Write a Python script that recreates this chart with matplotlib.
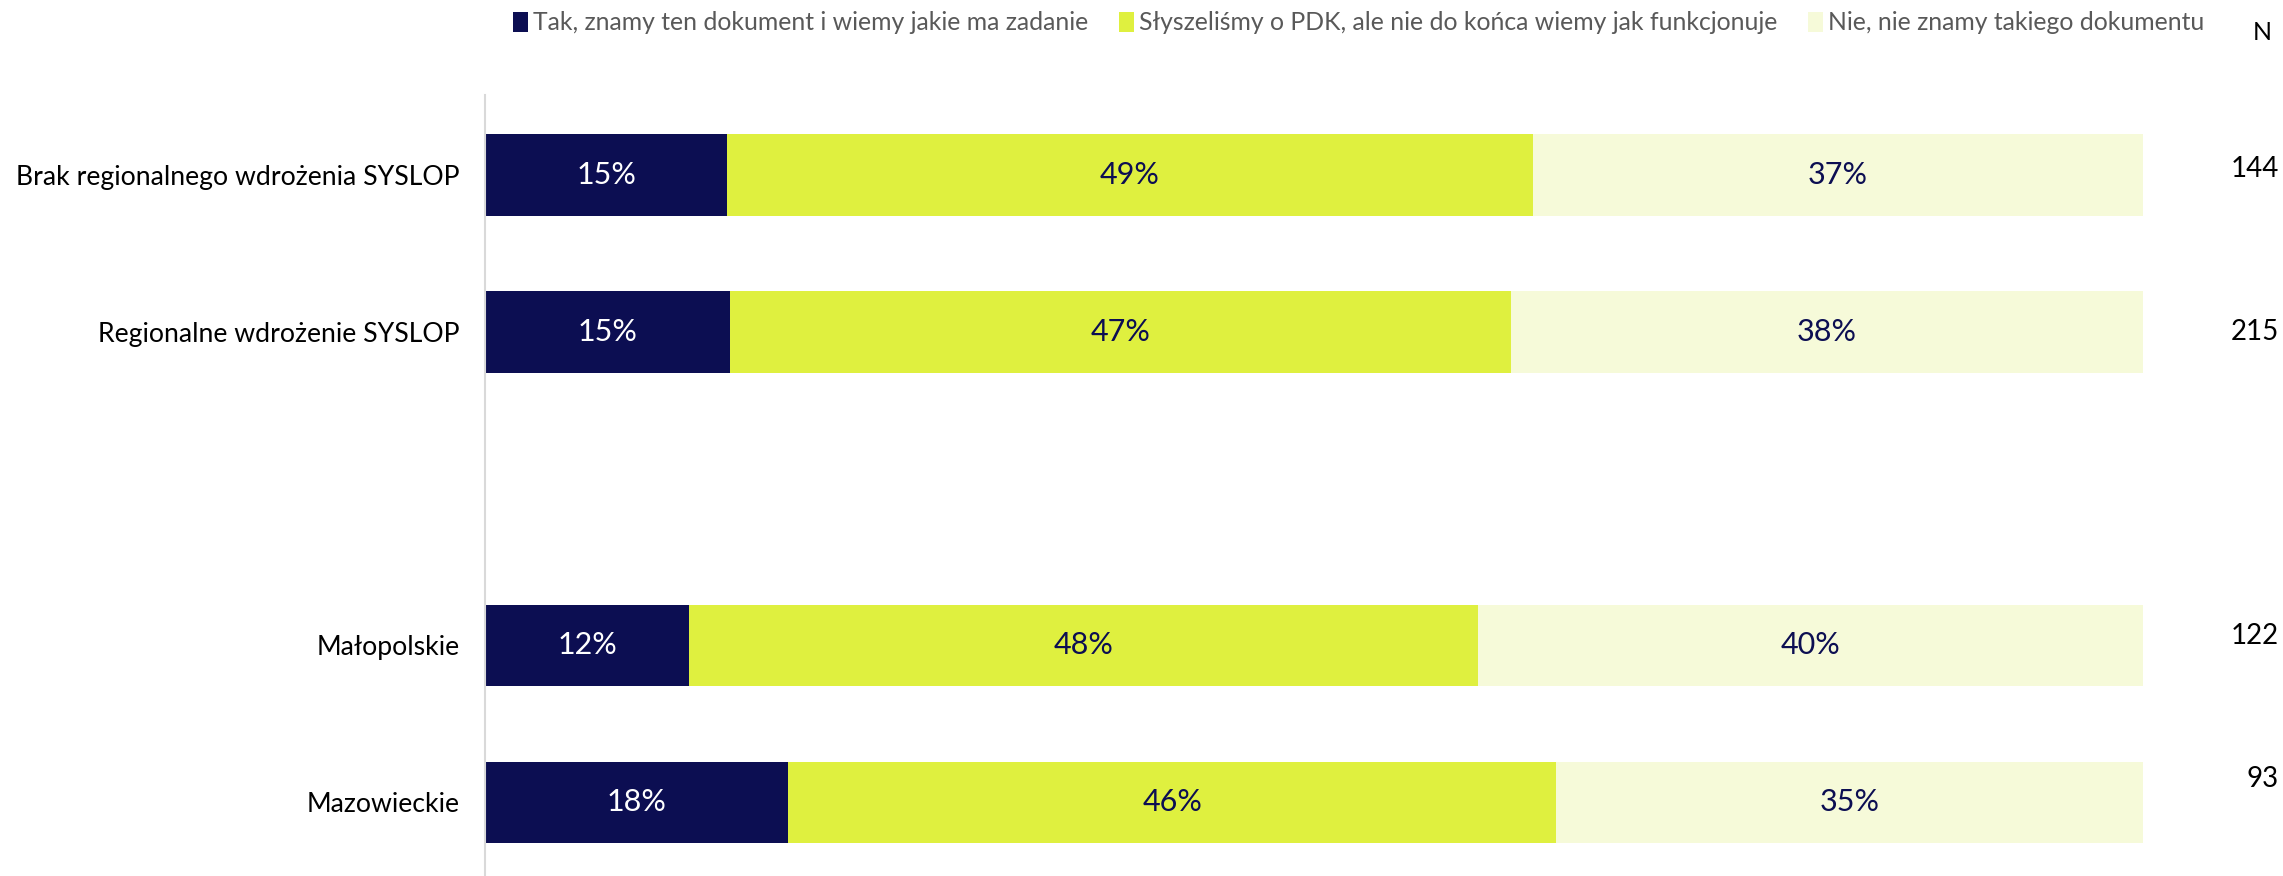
import matplotlib
matplotlib.use('Agg')
import matplotlib.pyplot as plt
from matplotlib.patches import Patch

#-----------------------------------------------------------------
# data
#-----------------------------------------------------------------
categories = ['Brak regionalnego wdrożenia SYSLOP', 'Regionalne wdrożenie SYSLOP',
              'Małopolskie', 'Mazowieckie']
positions  = [0, 1, 3, 4]          # empty slot between the two groups
tak        = [14.6, 14.8, 12.3, 18.3]
slyszelismy = [48.6, 47.1, 47.6, 46.3]
nie        = [36.8, 38.1, 40.1, 35.4]
n_values   = [144, 215, 122, 93]
n_nudge    = [-0.04, 0.0, -0.06, -0.15]

series_names = ['Tak, znamy ten dokument i wiemy jakie ma zadanie',
                'Słyszeliśmy o PDK, ale nie do końca wiemy jak funkcjonuje',
                'Nie, nie znamy takiego dokumentu']
colors      = ['#0c0e52', '#dff03f', '#f6fad9']
text_colors = ['white', '#0c0e52', '#0c0e52']

plt.rcParams['font.family'] = ['Lato', 'DejaVu Sans']

W, H = 2283, 876
fig = plt.figure(figsize=(W / 100, H / 100), dpi=100)
ax = fig.add_axes([485 / W, 0, (2143 - 485) / W, 1 - 95 / H])

left = [0, 0, 0, 0]
for vals, col, tcol in zip([tak, slyszelismy, nie], colors, text_colors):
    ax.barh(positions, vals, left=left, height=0.52, color=col)
    for p, v, l in zip(positions, vals, left):
        ax.text(l + v / 2, p, '{:.0f}%'.format(v), ha='center', va='center',
                color=tcol, fontsize=22)
    left = [a + b for a, b in zip(left, vals)]

ax.set_xlim(0, 100)
ax.set_ylim(4.47, -0.51)
ax.set_yticks(positions)
ax.set_yticklabels(categories, fontsize=19.2, color='black')
ax.tick_params(axis='y', length=0, pad=18)
ax.set_xticks([])
for s in ['top', 'right', 'bottom']:
    ax.spines[s].set_visible(False)
ax.spines['left'].set_color('#d9d9d9')
ax.spines['left'].set_linewidth(1.5)

# N column on the right of the bars
n_x = (2279 - 485) / (2143 - 485)
for p, n, d in zip(positions, n_values, n_nudge):
    ax.text(n_x, p + d, str(n), transform=ax.get_yaxis_transform(),
            ha='right', va='center', fontsize=20, color='black')

fig.text(2262 / W, 1 - 32 / H, 'N', ha='center', va='center', fontsize=18, color='black')

handles = [Patch(facecolor=c, edgecolor='none') for c in colors]
fig.legend(handles, series_names, loc='center right', bbox_to_anchor=(2204 / W, 1 - 23 / H),
           ncol=3, frameon=False, fontsize=17.8, labelcolor='#595959',
           handlelength=0.6, handleheight=0.9, handletextpad=0.2, columnspacing=1.25,
           borderpad=0, borderaxespad=0)

plt.savefig('out.png', dpi=100)
